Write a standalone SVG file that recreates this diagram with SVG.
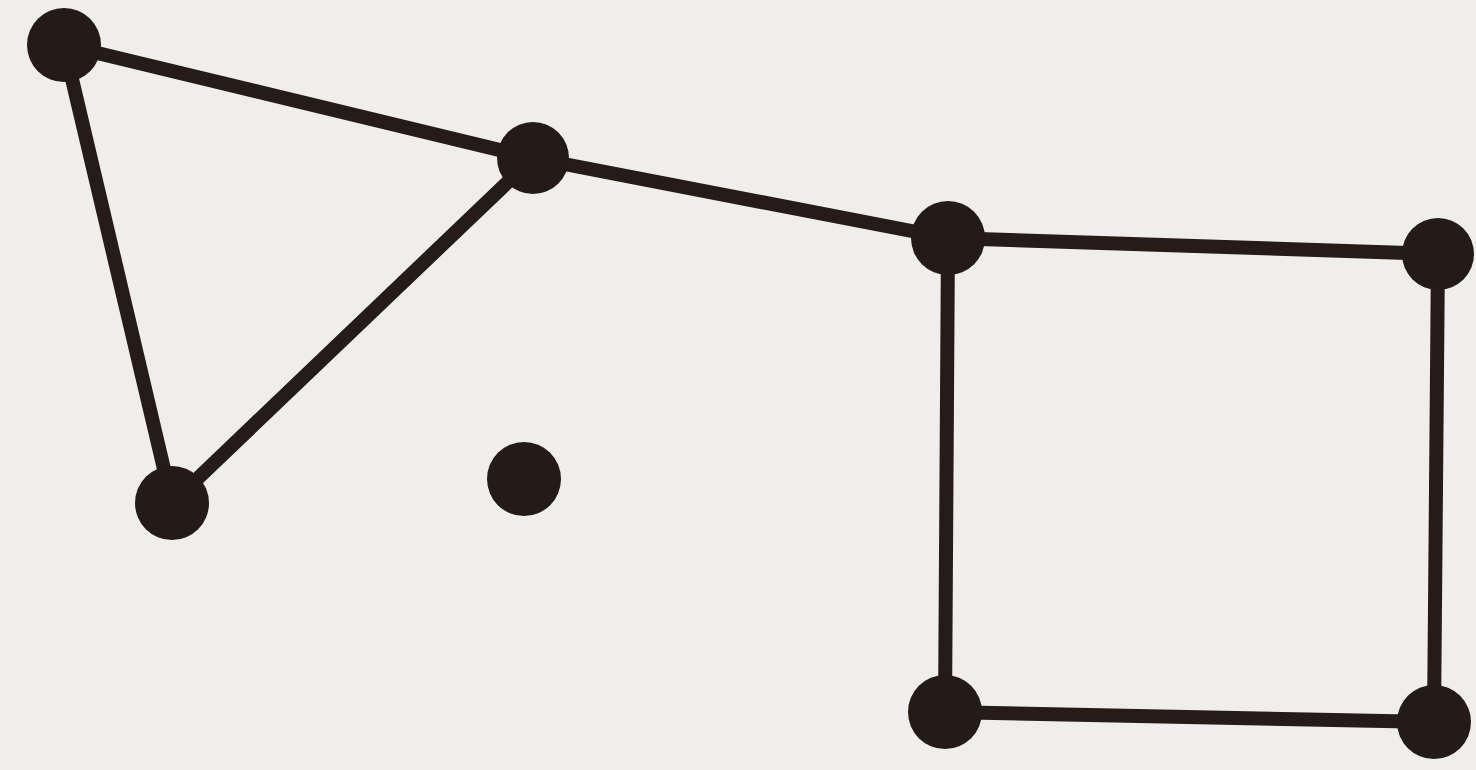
<svg xmlns="http://www.w3.org/2000/svg" width="1476" height="770" viewBox="0 0 1476 770">
<style>
.edge{stroke:#261c17;stroke-width:14;stroke-linecap:round;fill:none}
.node{fill:#251b16}
</style>
<rect width="1476" height="770" fill="#efeeea"/>
<g id="connectors">
<line class="edge" x1="64" y1="45" x2="533" y2="158"/>
<line class="edge" x1="64" y1="45" x2="172" y2="503"/>
<line class="edge" x1="533" y1="158" x2="172" y2="503"/>
<line class="edge" x1="533" y1="158" x2="948" y2="238"/>
<line class="edge" x1="948" y1="238" x2="1438" y2="254"/>
<line class="edge" x1="948" y1="238" x2="945" y2="712"/>
<line class="edge" x1="1438" y1="254" x2="1434" y2="722"/>
<line class="edge" x1="945" y1="712" x2="1434" y2="722"/>
</g>
<g id="nA"><circle class="node" cx="64" cy="45" r="37"/></g>
<g id="nB"><circle class="node" cx="533" cy="158" r="36"/></g>
<g id="nC"><circle class="node" cx="172" cy="503" r="37"/></g>
<g id="nD"><circle class="node" cx="524" cy="479" r="37"/></g>
<g id="nE"><circle class="node" cx="948" cy="238" r="37"/></g>
<g id="nF"><circle class="node" cx="1438" cy="254" r="36"/></g>
<g id="nG"><circle class="node" cx="945" cy="712" r="37"/></g>
<g id="nH"><circle class="node" cx="1434" cy="722" r="37"/></g>
</svg>
